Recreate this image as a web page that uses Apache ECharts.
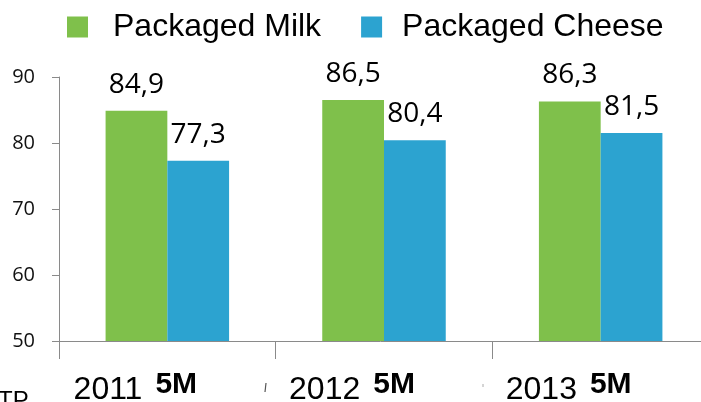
<!DOCTYPE html>
<html>
<head>
<meta charset="utf-8">
<script src="https://cdn.jsdelivr.net/npm/echarts@6/dist/echarts.min.js"></script>
<style>
  html, body { margin: 0; padding: 0; background: #fff; }
  #chart { width: 701px; height: 402px; }
</style>
</head>
<body>
<div id="chart"></div>
<script>
// Yearly penetration, first five months of each year
const years = ['2011', '2012', '2013'];
const periodTag = '5M';
const milk = [84.9, 86.5, 86.3];
const cheese = [77.3, 80.4, 81.5];
const seriesNames = ['Packaged Milk', 'Packaged Cheese'];
const yMin = 50, yMax = 90, yStep = 10;

const GREEN = '#7fc04b';
const BLUE = '#2ca3d0';
const AXIS = '#8a8a8a';
const NUM_FONT = "'Open Sans', 'Noto Sans', sans-serif";
const SANS = "'Liberation Sans', Arial, sans-serif";

const fmt = v => v.toFixed(1).replace('.', ',');

const valueLabel = {
  show: true,
  position: 'top',
  distance: 12,
  fontFamily: NUM_FONT,
  fontSize: 28,
  color: '#000',
  formatter: p => fmt(p.value)
};

const chart = echarts.init(document.getElementById('chart'), null, { renderer: 'canvas' });

chart.setOption({
  animation: false,
  backgroundColor: '#fff',
  legend: {
    left: 67,
    top: 10,
    padding: 0,
    icon: 'rect',
    itemWidth: 21,
    itemHeight: 21,
    itemGap: 40,
    textStyle: { fontFamily: SANS, fontSize: 32, color: '#000', lineHeight: 34 },
    data: [
      { name: seriesNames[0], textStyle: { padding: [0, 0, 0, 20] } },
      { name: seriesNames[1], textStyle: { padding: [0, 0, 0, 15] } }
    ]
  },
  grid: { left: 59, right: -8, top: 77, bottom: 61, containLabel: false, outerBoundsMode: 'none' },
  xAxis: {
    type: 'category',
    data: years,
    boundaryGap: true,
    axisLine: { lineStyle: { color: AXIS, width: 1 } },
    axisTick: { show: true, length: 18, lineStyle: { color: AXIS } },
    axisLabel: {
      margin: 29,
      padding: [0, 64, 0, 0],
      formatter: v => '{a|' + v + '}{b|' + periodTag + '}',
      rich: {
        a: { fontFamily: SANS, fontSize: 32, color: '#000' },
        b: { fontFamily: SANS, fontWeight: 'bold', fontSize: 30, color: '#000', padding: [0, 0, 10, 13] }
      }
    }
  },
  yAxis: {
    type: 'value',
    min: yMin,
    max: yMax,
    interval: yStep,
    splitLine: { show: false },
    axisLine: { show: true, lineStyle: { color: AXIS, width: 1 } },
    axisTick: { show: true, length: 7, lineStyle: { color: AXIS } },
    axisLabel: { margin: 24, fontFamily: NUM_FONT, fontSize: 20, color: '#111' }
  },
  series: [
    {
      name: seriesNames[0],
      type: 'bar',
      data: milk,
      barGap: '0%',
      barCategoryGap: '43%',
      itemStyle: { color: GREEN },
      label: valueLabel
    },
    {
      name: seriesNames[1],
      type: 'bar',
      data: cheese,
      itemStyle: { color: BLUE },
      label: valueLabel
    }
  ],
  graphic: [
    {
      type: 'text', left: -2, top: 389, silent: true,
      style: { text: 'TP', fontFamily: SANS, fontSize: 24, fill: '#000' }
    },
    {
      type: 'line', silent: true,
      shape: { x1: 266, y1: 383, x2: 265, y2: 392 },
      style: { stroke: '#555', lineWidth: 1.2 }
    },
    {
      type: 'line', silent: true,
      shape: { x1: 483, y1: 384, x2: 483, y2: 387 },
      style: { stroke: '#aaa', lineWidth: 1 }
    }
  ]
});
</script>
</body>
</html>
